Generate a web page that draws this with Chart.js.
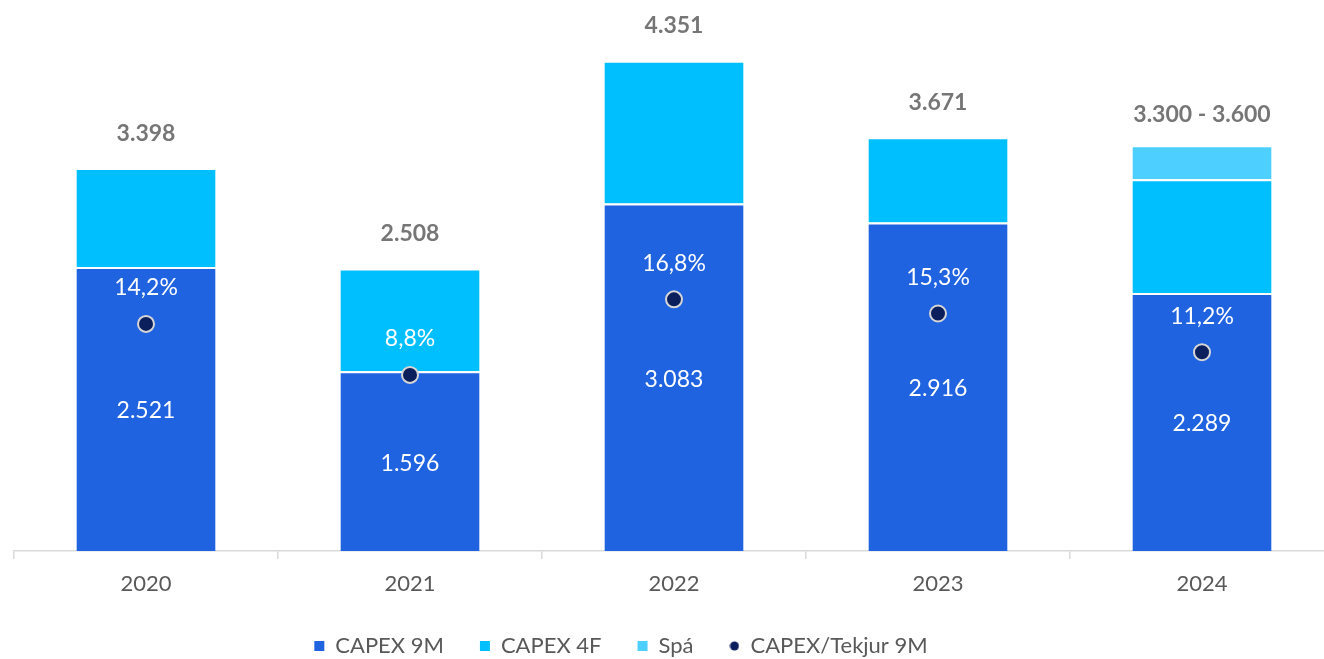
<!DOCTYPE html>
<html>
<head>
<meta charset="utf-8">
<script src="https://cdn.jsdelivr.net/npm/chart.js@4.4.1/dist/chart.umd.min.js"></script>
<style>
  html, body { margin: 0; padding: 0; background: #fff; overflow: hidden; }
  #capex-chart { display: block; }
</style>
</head>
<body>
<canvas id="capex-chart" width="1334" height="659"></canvas>
<script>
// values
const years = ['2020', '2021', '2022', '2023', '2024'];
const capex9M = [2521, 1596, 3083, 2916, 2289];
const capex4F = [877, 912, 1268, 755, 1011];
const forecast = [null, null, null, null, 300];
const capexRatio = [14.2, 8.8, 16.8, 15.3, 11.2];
const totalLabels = ['3.398', '2.508', '4.351', '3.671', '3.300 - 3.600'];

const FONT = 'Lato, "Open Sans", sans-serif';

function fmtThousands(v) {
    return String(v).replace(/\B(?=(\d{3})+(?!\d))/g, '.');
}
function fmtPct(v) {
    return v.toFixed(1).replace('.', ',') + '%';
}

// small dot used as legend marker for the ratio series
const legendDot = document.createElement('canvas');
legendDot.width = 10;
legendDot.height = 10;
(function() {
    const c = legendDot.getContext('2d');
    c.beginPath();
    c.arc(5, 5, 4.5, 0, Math.PI * 2);
    c.fillStyle = '#0B1F5C';
    c.fill();
})();

// labels on top of / inside the bars, and above the dots
const barLabels = {
    id: 'barLabels',
    afterDatasetsDraw(chart) {
        const ctx = chart.ctx;
        const metaBase = chart.getDatasetMeta(0);
        const barMetas = [0, 1, 2].map(i => chart.getDatasetMeta(i));
        const dotMeta = chart.getDatasetMeta(3);
        ctx.save();
        ctx.textAlign = 'center';
        ctx.textBaseline = 'middle';

        metaBase.data.forEach((bar, j) => {
            // value in the dark segment
            ctx.fillStyle = '#ffffff';
            ctx.font = '23px ' + FONT;
            ctx.fillText(fmtThousands(capex9M[j]), bar.x, (bar.y + bar.base) / 2 + 2);

            // total above the stack
            let topY = bar.y;
            barMetas.forEach((m, i) => {
                const ds = chart.data.datasets[i].data;
                if (ds[j] != null && m.data[j]) topY = Math.min(topY, m.data[j].y);
            });
            ctx.fillStyle = '#767676';
            ctx.font = 'bold 23px ' + FONT;
            ctx.fillText(totalLabels[j], bar.x, topY - (forecast[j] != null ? 31 : 35));

            // ratio above the dot
            const dot = dotMeta.data[j];
            ctx.fillStyle = '#ffffff';
            ctx.font = '23px ' + FONT;
            ctx.fillText(fmtPct(capexRatio[j]), dot.x, dot.y - 36);
        });
        ctx.restore();
    }
};

// fixed legend height, so the plot area ends where the reference's does
const legendFit = {
    id: 'legendFit',
    beforeLayout(chart) {
        const lg = chart.legend;
        if (lg && !lg._fixedFit) {
            const fit = lg.fit;
            lg.fit = function() {
                fit.call(this);
                this.height = 60;
            };
            lg._fixedFit = true;
        }
    }
};

// move the legend to where it sits in the reference
const legendShift = {
    id: 'legendShift',
    afterLayout(chart) {
        const lg = chart.legend;
        const dx = -53, dy = 0;
        lg.left += dx; lg.right += dx;
        lg.top += dy; lg.bottom += dy;
    }
};

const ctx = document.getElementById('capex-chart').getContext('2d');

new Chart(ctx, {
    data: {
        labels: years,
        datasets: [{
            type: 'bar',
            label: 'CAPEX 9M',
            data: capex9M,
            backgroundColor: '#1F63E0',
            borderColor: '#ffffff',
            borderWidth: { top: 2, left: 0, right: 0, bottom: 0 },
            pointStyle: 'rect',
            order: 1
        }, {
            type: 'bar',
            label: 'CAPEX 4F',
            data: capex4F,
            backgroundColor: '#00BFFF',
            borderColor: '#ffffff',
            borderWidth: { top: 2, left: 0, right: 0, bottom: 0 },
            pointStyle: 'rect',
            order: 1
        }, {
            type: 'bar',
            label: 'Spá',
            data: forecast,
            backgroundColor: '#4DCFFF',
            borderColor: '#ffffff',
            borderWidth: { top: 2, left: 0, right: 0, bottom: 0 },
            pointStyle: 'rect',
            order: 1
        }, {
            type: 'line',
            label: 'CAPEX/Tekjur 9M',
            data: capexRatio,
            yAxisID: 'y2',
            showLine: false,
            pointStyle: 'circle',
            pointRadius: 8,
            pointHoverRadius: 8,
            pointBackgroundColor: '#0B1F5C',
            pointBorderColor: '#D6D6D6',
            pointBorderWidth: 2,
            backgroundColor: '#0B1F5C',
            borderColor: '#D6D6D6',
            order: 0
        }]
    },
    options: {
        responsive: false,
        animation: false,
        layout: {
            autoPadding: false,
            padding: { left: 14, right: 0, top: 0, bottom: 0 }
        },
        datasets: {
            bar: {
                barPercentage: 0.527,
                categoryPercentage: 1
            }
        },
        scales: {
            x: {
                stacked: true,
                afterFit(scale) { scale.height = 48; },
                grid: {
                    drawOnChartArea: false,
                    color: '#D9D9D9',
                    lineWidth: 1.5,
                    tickLength: 8
                },
                border: { color: '#D9D9D9', width: 1.5 },
                ticks: {
                    color: '#595959',
                    padding: 12,
                    font: { family: FONT, size: 22 }
                }
            },
            y: {
                stacked: true,
                display: false,
                min: 0,
                max: 4890
            },
            y2: {
                display: false,
                position: 'right',
                min: -9.85,
                max: 48.5
            }
        },
        plugins: {
            legend: {
                position: 'bottom',
                labels: {
                    usePointStyle: true,
                    boxWidth: 10,
                    boxHeight: 10,
                    padding: 36,
                    color: '#595959',
                    font: { family: FONT, size: 22 },
                    sort: (a, b) => a.datasetIndex - b.datasetIndex,
                    generateLabels(chart) {
                        const items = Chart.defaults.plugins.legend.labels.generateLabels(chart);
                        items.forEach(it => {
                            it.lineWidth = 0;
                            if (it.datasetIndex === 3) it.pointStyle = legendDot;
                        });
                        return items;
                    }
                }
            },
            tooltip: { enabled: false }
        }
    },
    plugins: [barLabels, legendFit, legendShift]
});
</script>
</body>
</html>
